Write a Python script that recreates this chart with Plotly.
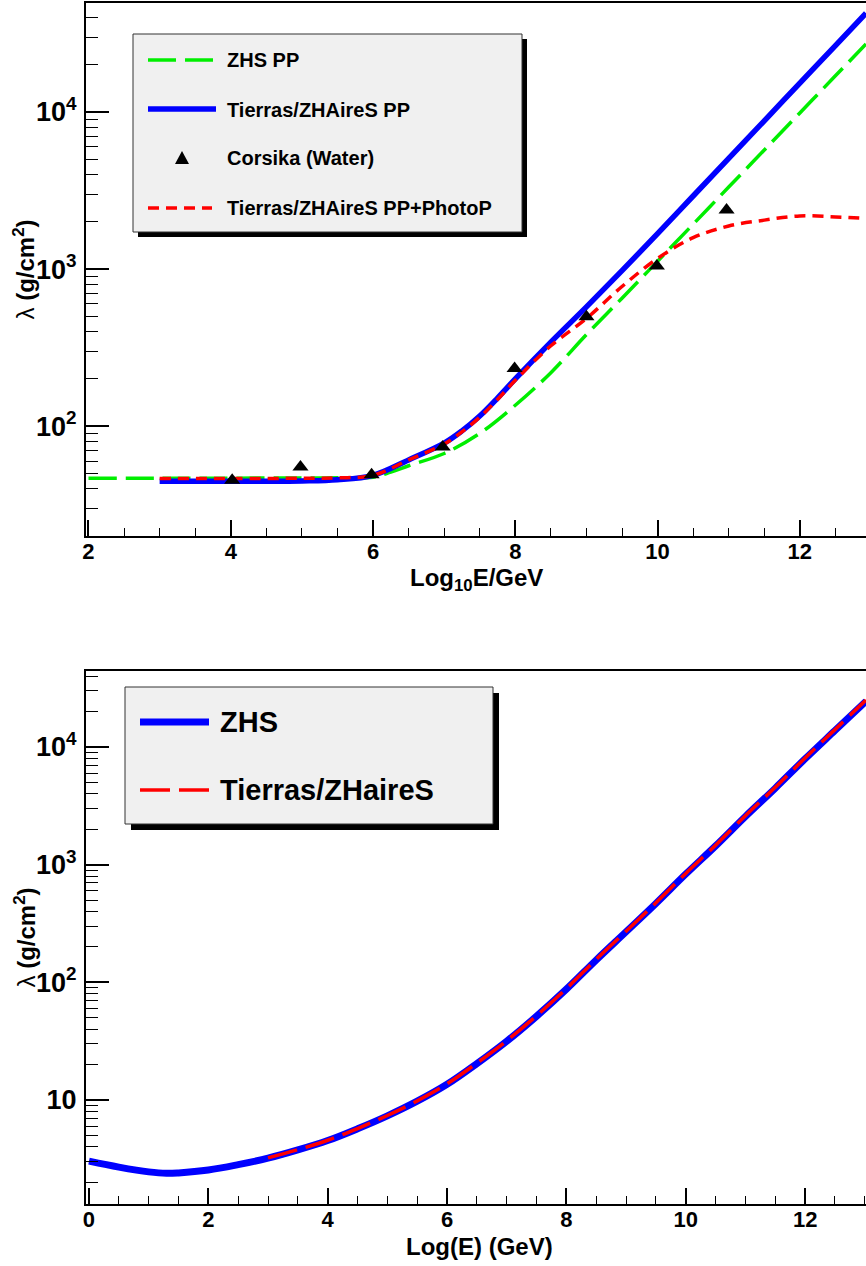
import plotly.graph_objects as go

W, H = 866, 1266

# ---------------- data: top panel ----------------
x_zhs_pp = [2, 3, 4, 5, 5.5, 6, 6.25, 6.5, 7, 7.5, 8, 8.5, 9, 9.5, 10, 10.5, 11, 11.5, 12, 12.5, 12.93]
zhs_pp = [46.7, 46.7, 46.7, 46.8, 46.9, 47.3, 51, 56, 67, 90, 136, 219, 383, 653, 1122, 1930, 3330, 5730, 9860, 17000, 27100]

x_tierras_pp = [3, 4, 5, 5.5, 6, 6.5, 7, 7.25, 7.5, 7.75, 8, 8.5, 9, 9.5, 10, 10.5, 11, 11.5, 12, 12.5, 12.93]
tierras_pp = [44.6, 44.6, 44.8, 45.6, 48.7, 61, 78, 93.3, 116, 151, 200, 343, 575, 977, 1680, 2920, 5070, 8790, 15280, 26500, 42600]

x_tierras_photo = [3, 4, 5, 5.5, 6, 6.5, 7, 7.25, 7.5, 7.75, 8, 8.5, 9, 9.5, 10, 10.5, 11, 11.5, 12, 12.5, 12.93]
tierras_photo = [46.5, 46.5, 46.6, 46.9, 48.6, 61, 77, 92, 114, 148, 196, 325, 485, 775, 1170, 1585, 1880, 2050, 2180, 2150, 2100]

x_corsika = [4.02, 4.98, 5.98, 6.98, 7.99, 9.0, 9.99, 10.97]
corsika = [45.3, 55, 49, 73.8, 233, 497, 1046, 2380]

# ---------------- data: bottom panel ----------------
x_zhs = [0, 0.5, 1, 1.3, 1.5, 2, 2.5, 3, 3.5, 4, 4.5, 5, 5.5, 6, 6.5, 7, 7.5, 8, 8.5, 9,
         9.5, 10, 10.5, 11, 11.5, 12, 12.5, 13.02]
zhs = [3.02, 2.69, 2.45, 2.38, 2.40, 2.54, 2.82, 3.20, 3.76, 4.52, 5.69, 7.33, 9.77, 13.6, 20.4,
       31.6, 51.5, 87.5, 155, 269, 468, 832, 1445, 2570, 4470, 7940, 13800, 24500]

x_tierras = [3, 3.5, 4, 4.5, 5, 5.5, 6, 6.5, 7, 7.5, 8, 8.5, 9, 9.5, 10, 10.5, 11, 11.5, 12, 12.5, 13.02]
tierras = [3.22, 3.78, 4.55, 5.72, 7.38, 9.83, 13.7, 20.6, 31.9, 52.0, 88.4, 157, 272, 474, 843,
           1465, 2610, 4540, 8070, 14050, 25100]

# tick labels
top_y_ticks = [100, 1000, 10000]
top_y_text = ["10<sup>2</sup>", "10<sup>3</sup>", "10<sup>4</sup>"]
bot_y_ticks = [10, 100, 1000, 10000]
bot_y_text = ["10", "10<sup>2</sup>", "10<sup>3</sup>", "10<sup>4</sup>"]

FONT = "Liberation Sans, Arial, Helvetica, sans-serif"


def px(x):
    return x / W


def py(y):
    return 1 - y / H


fig = go.Figure()

# top panel traces
fig.add_trace(go.Scatter(x=x_zhs_pp, y=zhs_pp, mode="lines", xaxis="x", yaxis="y",
                         line=dict(color="#00ee00", width=3.5, dash="28px,9px", shape="spline"),
                         showlegend=False))
fig.add_trace(go.Scatter(x=x_tierras_pp, y=tierras_pp, mode="lines", xaxis="x", yaxis="y",
                         line=dict(color="#0000ff", width=5.5, shape="spline"), showlegend=False))
fig.add_trace(go.Scatter(x=x_tierras_photo, y=tierras_photo, mode="lines", xaxis="x", yaxis="y",
                         line=dict(color="#ff0000", width=3.5, dash="11px,7px", shape="spline"),
                         showlegend=False))
fig.add_trace(go.Scatter(x=x_corsika, y=corsika, mode="markers", xaxis="x", yaxis="y",
                         marker=dict(symbol="triangle-up", size=14, color="black"), showlegend=False))

# bottom panel traces
fig.add_trace(go.Scatter(x=x_zhs, y=zhs, mode="lines", xaxis="x2", yaxis="y2",
                         line=dict(color="#0000ff", width=7, shape="spline"), showlegend=False))
fig.add_trace(go.Scatter(x=x_tierras, y=tierras, mode="lines", xaxis="x2", yaxis="y2",
                         line=dict(color="#ff0000", width=3.5, dash="30px,9px", shape="spline"),
                         showlegend=False))

top_minor = [m * 10 ** d for d in range(1, 5) for m in range(2, 10)]
bot_minor = [m * 10 ** d for d in range(0, 5) for m in range(2, 10)]

xcommon = dict(showline=True, linecolor="black", linewidth=2, mirror=True, showgrid=False,
               zeroline=False, ticks="inside", ticklen=16, tickwidth=1.5, tickcolor="black",
               tickfont=dict(family=FONT, size=22, color="black", weight="bold"),
               dtick=2, tick0=0, automargin=False, ticklabelstandoff=-5)
ycommon = dict(type="log", showline=True, linecolor="black", linewidth=2, mirror=False,
               showgrid=False, zeroline=False, ticks="inside", ticklen=23, tickwidth=1.5,
               tickcolor="black", tickmode="array", ticklabelstandoff=2, automargin=False,
               tickfont=dict(family=FONT, size=27, color="black", weight="bold"))

fig.update_layout(
    width=W, height=H, margin=dict(l=0, r=0, t=0, b=0, autoexpand=False),
    paper_bgcolor="white", plot_bgcolor="white", showlegend=False,
    xaxis=dict(domain=[px(86), 1], range=[1.965, 12.93], anchor="y",
               minor=dict(dtick=0.5, tick0=0, ticks="inside", ticklen=8, tickcolor="black", tickwidth=1.2),
               **xcommon),
    yaxis=dict(domain=[py(536), py(3)], range=[1.301, 4.694], anchor="x",
               tickvals=top_y_ticks, ticktext=top_y_text,
               minor=dict(tickmode="array", tickvals=top_minor, ticks="inside", ticklen=12,
                          tickcolor="black", tickwidth=1.2),
               **ycommon),
    xaxis2=dict(domain=[px(86), 1], range=[-0.05, 13.02], anchor="y2",
                minor=dict(dtick=0.5, tick0=0, ticks="inside", ticklen=8, tickcolor="black", tickwidth=1.2),
                **xcommon),
    yaxis2=dict(domain=[py(1204), py(671)], range=[0.116, 4.646], anchor="x2",
                tickvals=bot_y_ticks, ticktext=bot_y_text,
                minor=dict(tickmode="array", tickvals=bot_minor, ticks="inside", ticklen=12,
                           tickcolor="black", tickwidth=1.2),
                **ycommon),
)

shapes = []
annotations = []


def add_legend_box(x0, y0, x1, y1, off=6):
    shapes.append(dict(type="rect", xref="paper", yref="paper", layer="above",
                       x0=px(x0 + off), x1=px(x1 + off), y0=py(y1 + off), y1=py(y0 + off),
                       fillcolor="black", line=dict(width=0)))
    shapes.append(dict(type="rect", xref="paper", yref="paper", layer="above",
                       x0=px(x0), x1=px(x1), y0=py(y1), y1=py(y0),
                       fillcolor="#f0f0f0", line=dict(color="#333333", width=1)))


def add_line_sample(x0, x1, y, color, width, dash):
    shapes.append(dict(type="line", xref="paper", yref="paper", layer="above",
                       x0=px(x0), x1=px(x1), y0=py(y), y1=py(y),
                       line=dict(color=color, width=width, dash=dash)))


def add_text(x, y, text, size):
    annotations.append(dict(xref="paper", yref="paper", x=px(x), y=py(y), text=text,
                            showarrow=False, xanchor="left", yanchor="middle",
                            font=dict(family=FONT, size=size, color="black", weight="bold")))


# top legend
add_legend_box(133, 34, 522, 232, off=5)
add_line_sample(148, 216, 60, "#00ee00", 3.5, "28px,9px")
add_text(225, 60, "ZHS PP", 20)
add_line_sample(148, 216, 109, "#0000ff", 5.5, "solid")
add_text(225, 110, "Tierras/ZHAireS PP", 20)
tx, ty = 182, 158
shapes.append(dict(type="path", xref="paper", yref="paper", layer="above",
                   path=f"M {px(tx-7)} {py(ty+6)} L {px(tx+7)} {py(ty+6)} L {px(tx)} {py(ty-7)} Z",
                   fillcolor="black", line=dict(width=0)))
add_text(225, 158, "Corsika (Water)", 20)
add_line_sample(148, 212, 208, "#ff0000", 3.5, "11px,7px")
add_text(225, 208, "Tierras/ZHAireS PP+PhotoP", 20)

# bottom legend
add_legend_box(125, 687, 493, 824, off=6)
add_line_sample(140, 209, 722, "#0000ff", 7, "solid")
add_text(218, 722, "ZHS", 29)
add_line_sample(140, 209, 790, "#ff0000", 3.5, "30px,9px")
add_text(218, 790, "Tierras/ZHaireS", 29)

# axis titles
title_font = dict(family=FONT, size=24, color="black", weight="bold")
annotations.append(dict(xref="paper", yref="paper", x=px(477), y=py(579), showarrow=False,
                        text="Log<sub>10</sub>E/GeV", xanchor="center", yanchor="middle", font=title_font))
annotations.append(dict(xref="paper", yref="paper", x=px(24), y=py(269.5), showarrow=False,
                        text="<span style='font-weight:normal'>λ</span> (g/cm<sup>2</sup>)",
                        textangle=-90, xanchor="center", yanchor="middle", font=title_font))
annotations.append(dict(xref="paper", yref="paper", x=px(480), y=py(1246), showarrow=False,
                        text="Log(E) (GeV)", xanchor="center", yanchor="middle", font=title_font))
annotations.append(dict(xref="paper", yref="paper", x=px(24), y=py(937.5), showarrow=False,
                        text="<span style='font-weight:normal'>λ</span> (g/cm<sup>2</sup>)",
                        textangle=-90, xanchor="center", yanchor="middle", font=title_font))

fig.update_layout(shapes=shapes, annotations=annotations)
fig.write_html("out.html", config={"displayModeBar": False},
               post_script="document.body.style.margin='0';document.body.style.padding='0';"
                           "document.body.style.overflow='hidden';")
